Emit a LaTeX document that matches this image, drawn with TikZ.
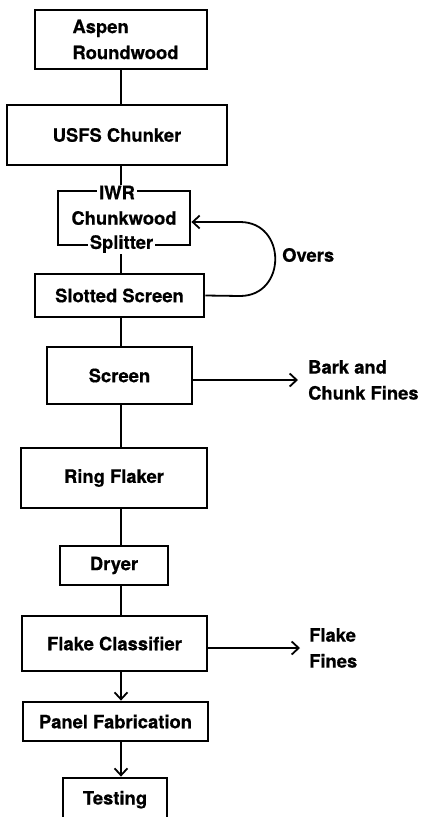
\documentclass[tikz,border=0pt]{standalone}
\usepackage{fontspec}
\setmainfont{TeX Gyre Heros}[BoldFeatures={FakeBold=0.5}]
\usetikzlibrary{arrows.meta}
\begin{document}
\begin{tikzpicture}[x=1pt,y=-1pt,
  txt/.style={font=\bfseries\fontsize{18.4}{26}\selectfont},
  box/.style={txt, draw, line width=2.8pt, inner sep=0pt, align=left},
  conn/.style={line width=1.8pt},
  arr/.style={conn, -{Straight Barb[length=7pt,width=13pt]}},
  lbl/.style={txt, align=left, inner sep=0pt, anchor=west},
  onborder/.style={txt, fill=white, inner xsep=2pt, inner ysep=1pt}]
\useasboundingbox (0,0) rectangle (422,817);
\clip (0,0) rectangle (422,817);
\fill[white] (0,0) rectangle (422,817);
\coordinate (spine) at (121,0);

% boxes
\node[box, minimum width=172pt, minimum height=59pt] (aspen) at (121,39.5) {\hspace*{9pt}Aspen\\\hspace*{9pt}Roundwood};
\node[box, minimum width=220pt, minimum height=60pt] (usfs) at (117,135) {USFS Chunker};
\node[box, minimum width=132pt, minimum height=54pt] (split) at (124,218) {Chunkwood};
\node[box, minimum width=169pt, minimum height=43pt] (slotted) at (119.5,295.5) {Slotted Screen};
\node[box, minimum width=145pt, minimum height=57pt] (screen) at (119.5,375.5) {Screen};
\node[box, minimum width=186pt, minimum height=60pt] (ring) at (114,478) {Ring Flaker};
\node[box, minimum width=108pt, minimum height=39pt] (dryer) at (114,565.5) {Dryer};
\node[box, minimum width=185pt, minimum height=55pt] (classifier) at (114.5,643.5) {Flake Classifier};
\node[box, minimum width=185pt, minimum height=39pt] (panel) at (115.5,721.5) {Panel Fabrication};
\node[box, minimum width=104pt, minimum height=62pt, text height=13pt, text depth=22pt] (testing) at (115,809) {Testing};

% side labels
\node[lbl] (overs) at (282,255) {Overs};
\node[lbl] (bark) at (308,380) {Bark and\\Chunk Fines};
\node[lbl] (fines) at (309,648) {Flake\\Fines};

% main connectors
\draw[conn] (aspen.south -| spine) -- (usfs.north -| spine);
\draw[conn] (usfs.south -| spine) -- (split.north -| spine);
\draw[conn] (split.south -| spine) -- (slotted.north -| spine);
\draw[conn] (slotted.south -| spine) -- (screen.north -| spine);
\draw[conn] (screen.south -| spine) -- (ring.north -| spine);
\draw[conn] (ring.south -| spine) -- (dryer.north -| spine);
\draw[conn] (dryer.south -| spine) -- (classifier.north -| spine);
\draw[arr] (classifier.south -| spine) -- (panel.north -| spine);
\draw[arr] (panel.south -| spine) -- (testing.north -| spine);

% overs loop
\coordinate (loopA) at (240,296);
\coordinate (loopB) at (240,222);
\draw[arr] (slotted.east) -- (loopA) .. controls (287,296) and (287,222) .. (loopB) -- ([yshift=-4pt]split.east);

% side outputs
\draw[arr] ([yshift=-4.5pt]screen.east) -- ([xshift=-10pt]bark.west);
\draw[arr] ([yshift=-4.5pt]classifier.east) -- ([xshift=-9pt]fines.west);

% labels sitting on the splitter border
\node[onborder] (iwr) at (117,192.5) {IWR};
\node[onborder] (splitter) at (121.5,244) {Splitter};
\end{tikzpicture}
\end{document}
